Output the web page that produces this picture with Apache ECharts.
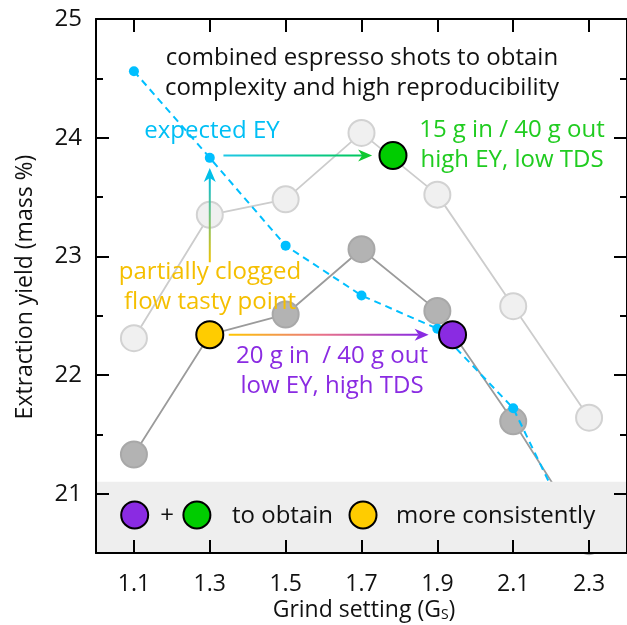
<!DOCTYPE html>
<html><head><meta charset="utf-8">
<script src="https://cdn.jsdelivr.net/npm/echarts@6/dist/echarts.min.js"></script>
<style>html,body{margin:0;padding:0;background:#fff}#c{width:627px;height:625px}</style>
</head><body><div id="c"></div>
<script>
// ---- data ----
const grindSettings = [1.1, 1.3, 1.5, 1.7, 1.9, 2.1, 2.3];
const eyLight = [22.31, 23.35, 23.48, 24.04, 23.52, 22.58, 21.64];
const eyDark = [21.33, 22.34, 22.51, 23.06, 22.54, 21.61, 20.60];
const eyExpected = [24.56, 23.83, 23.09, 22.67, 22.39, 21.72, 20.40];
const xTicks = [1.1, 1.3, 1.5, 1.7, 1.9, 2.1, 2.3];
const yTicks = [21, 22, 23, 24, 25];
const yMinorTicks = [21.5, 22.5, 23.5, 24.5];
const bandTop = 21.1;
const pointYellow = [1.3, 22.34];
const pointPurple = [1.94, 22.34];
const pointGreen = [1.783, 23.85];
const legendY = 20.82;
const legendX = [1.102, 1.266, 1.704];
const arrows = [
  [1.336, 23.85, 1.728, 23.85],
  [1.3, 22.95, 1.3, 23.745],
  [1.35, 22.34, 1.877, 22.34]
];

const FONT = '"Open Sans"';
const X_MIN = 1.0, X_MAX = 2.4, Y_MIN = 20.5, Y_MAX = 25;
const cBlue = '#00bfff', cGreen = '#00cc00', cYellow = '#ffcc00', cPurple = '#8a2be2';
const arrowGrad = [
  {dir: [0, 0, 1, 0], stops: ['#1ec8e8', '#00c85a'], head: '#10c830'},
  {dir: [0, 1, 0, 0], stops: ['#f5c400', '#00bfe0'], head: '#00bfe8'},
  {dir: [0, 0, 1, 0], stops: ['#ffc800', '#e8708a', '#8a2be2'], head: '#8a2be2'}
];

const chart = echarts.init(document.getElementById('c'), null, {renderer: 'canvas'});
const zip = (xs, ys) => xs.map((x, i) => [x, ys[i]]);

const axisLine = {show: true, lineStyle: {color: '#000', width: 2}};
const majorTick = (vals) => ({show: true, inside: true, length: 13, customValues: vals, lineStyle: {color: '#000', width: 2}});
const minorTick = (vals) => ({show: true, inside: true, length: 7, customValues: vals, lineStyle: {color: '#000', width: 2}});

const option = {
  animation: false,
  grid: {left: 96, top: 19, width: 535, height: 534, containLabel: false},
  xAxis: [
    {type: 'value', min: X_MIN, max: X_MAX, position: 'bottom', axisLine, z: 30,
     axisTick: majorTick(xTicks),
     axisLabel: {customValues: xTicks, formatter: v => v.toFixed(1), fontSize: 23, fontFamily: FONT, color: '#111', margin: 20},
     splitLine: {show: false}},
    {type: 'value', min: X_MIN, max: X_MAX, position: 'top', axisLine, z: 30,
     axisTick: majorTick(xTicks), axisLabel: {show: false}, splitLine: {show: false}}
  ],
  yAxis: [
    {type: 'value', min: Y_MIN, max: Y_MAX, position: 'left', axisLine, z: 30,
     axisTick: majorTick(yTicks),
     axisLabel: {customValues: yTicks, fontSize: 24, fontFamily: FONT, color: '#111', margin: 14},
     splitLine: {show: false}},
    {type: 'value', min: Y_MIN, max: Y_MAX, position: 'right', axisLine, z: 30,
     axisTick: majorTick(yTicks), axisLabel: {show: false}, splitLine: {show: false}},
    {type: 'value', min: Y_MIN, max: Y_MAX, position: 'left', axisLine: {show: false}, z: 30,
     axisTick: minorTick(yMinorTicks), axisLabel: {show: false}, splitLine: {show: false}},
    {type: 'value', min: Y_MIN, max: Y_MAX, position: 'right', axisLine: {show: false}, z: 30,
     axisTick: minorTick(yMinorTicks), axisLabel: {show: false}, splitLine: {show: false}}
  ],
  series: [
    {type: 'line', data: zip(grindSettings, eyLight), z: 2,
     symbol: 'circle', symbolSize: 26,
     itemStyle: {color: '#f0f0f0', borderColor: '#d2d2d2', borderWidth: 2},
     lineStyle: {color: '#cccccc', width: 1.8}},
    {type: 'line', data: zip(grindSettings, eyDark), z: 3,
     symbol: 'circle', symbolSize: 26,
     itemStyle: {color: '#b3b3b3', borderColor: '#a8a8a8', borderWidth: 2},
     lineStyle: {color: '#9b9b9b', width: 1.8}},
    {type: 'line', data: zip(grindSettings, eyExpected), z: 4,
     symbol: 'circle', symbolSize: 10,
     itemStyle: {color: cBlue},
     lineStyle: {color: cBlue, width: 2, type: [7, 5]}},
    {type: 'custom', z: 8, silent: true, data: arrows.map((a, i) => a.concat([i])),
     renderItem: (params, api) => {
       const p1 = api.coord([api.value(0), api.value(1)]);
       const p2 = api.coord([api.value(2), api.value(3)]);
       const g = arrowGrad[api.value(4)];
       let dx = p2[0] - p1[0], dy = p2[1] - p1[1];
       const len = Math.hypot(dx, dy); dx /= len; dy /= len;
       const nx = -dy, ny = dx;
       const L = 14, W = 6, notch = 4;
       const stops = g.stops.map((c, i) => ({offset: i / (g.stops.length - 1), color: c}));
       const bx = p2[0] - dx * L, by = p2[1] - dy * L;
       return {type: 'group', children: [
         {type: 'line', shape: {x1: p1[0], y1: p1[1], x2: p2[0] - dx * (L - notch), y2: p2[1] - dy * (L - notch)},
          style: {stroke: new echarts.graphic.LinearGradient(g.dir[0], g.dir[1], g.dir[2], g.dir[3], stops), lineWidth: 2}},
         {type: 'polygon', shape: {points: [
           [p2[0], p2[1]], [bx + nx * W, by + ny * W],
           [p2[0] - dx * (L - notch), p2[1] - dy * (L - notch)], [bx - nx * W, by - ny * W]]},
          style: {fill: g.head}}
       ]};
     }},
    {type: 'scatter', z: 10, symbol: 'circle', symbolSize: 27,
     data: [
       {value: pointYellow, itemStyle: {color: cYellow}},
       {value: pointPurple, itemStyle: {color: cPurple}},
       {value: pointGreen, itemStyle: {color: cGreen}}
     ],
     itemStyle: {borderColor: '#000', borderWidth: 2, opacity: 1}},
    {type: 'scatter', z: 12, symbol: 'circle', symbolSize: 27,
     data: [
       {value: [legendX[0], legendY], itemStyle: {color: cPurple}},
       {value: [legendX[1], legendY], itemStyle: {color: cGreen}},
       {value: [legendX[2], legendY], itemStyle: {color: cYellow}}
     ],
     itemStyle: {borderColor: '#000', borderWidth: 2, opacity: 1}}
  ]
};
chart.setOption(option);

const bandA = chart.convertToPixel({xAxisIndex: 0, yAxisIndex: 0}, [X_MIN, bandTop]);
const bandB = chart.convertToPixel({xAxisIndex: 0, yAxisIndex: 0}, [X_MAX, Y_MIN]);

const T = (x, y, text, color, size, align) => ({
  type: 'text', x, y, z: 100, silent: true,
  style: {text, fill: color, font: `${size}px ${FONT}`, align: align || 'center', verticalAlign: 'middle', lineHeight: 30}
});
chart.setOption({graphic: [
  {type: 'rect', z: 9, silent: true,
   shape: {x: bandA[0], y: bandA[1], width: bandB[0] - bandA[0], height: bandB[1] - bandA[1]},
   style: {fill: '#eeeeee'}},
  T(362, 73, 'combined espresso shots to obtain\ncomplexity and high reproducibility', '#111', 24),
  T(212, 131, 'expected EY', '#00bff5', 24),
  T(512, 145, '15 g in / 40 g out\nhigh EY, low TDS', '#20cc20', 24),
  T(210, 287, 'partially clogged\nflow tasty point', '#f5bf00', 24),
  T(332, 371, '20 g in  / 40 g out\nlow EY, high TDS', '#8a2be2', 24),
  T(167, 516, '+', '#111', 24),
  T(232, 516, 'to obtain', '#111', 24, 'left'),
  T(396, 516, 'more consistently', '#111', 24, 'left'),
  {type: 'text', x: 25, y: 287, rotation: Math.PI / 2, z: 100,
   style: {text: 'Extraction yield (mass %)', fill: '#111', font: `23px ${FONT}`, align: 'center', verticalAlign: 'middle'}},
  {type: 'text', x: 364, y: 610, z: 100,
   style: {text: 'Grind setting (G{s|S})', fill: '#111', font: `23px ${FONT}`, align: 'center', verticalAlign: 'middle',
     rich: {s: {fontSize: 14, fontFamily: FONT, fill: '#111', padding: [10, 0, 0, 0]}}}}
]});
</script></body></html>
